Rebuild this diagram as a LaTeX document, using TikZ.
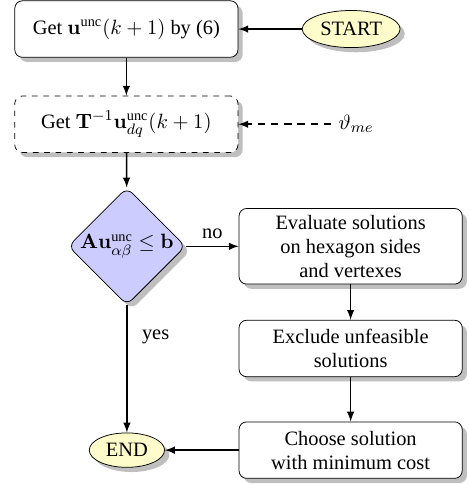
\documentclass[tikz,border=0pt]{standalone}
\usepackage{amsmath}
\usepackage[no-math]{fontspec}
\setmainfont{Liberation Serif}
\usetikzlibrary{shapes.geometric,shadows}

\tikzset{
	block/.style = {rectangle, draw, rounded corners=4pt, fill=white, drop shadow,
		align=center, minimum width=4.15cm, minimum height=1.05cm},
	term/.style = {ellipse, draw, fill=yellow!20, drop shadow, inner sep=1pt},
	test/.style = {diamond, draw, rounded corners=4pt, fill=blue!20, drop shadow,
		aspect=1, inner sep=0pt, minimum size=2.1cm},
	link/.style = {-latex, thick}
}

\begin{document}
\fontsize{10.8}{12.6}\selectfont
\begin{tikzpicture}
	\useasboundingbox (0,0) rectangle (8.72,-9.0);

	\node (a)[block] at(2.35,-0.54) {Get $\mathbf{u}^{\text{unc}}(k+1)$ by (6)};
	\node (s)[term, minimum width=1.82cm, minimum height=0.69cm] at(6.53,-0.54) {START};

	\node (b)[block, dashed] at(2.35,-2.31) {Get $\mathbf{T}^{-1}\mathbf{u}^{\text{unc}}_{dq}(k+1)$};
	\node (t) at(6.62,-2.31) {$\vartheta_{me}$};

	\node (c)[test] at(2.36,-4.58) {$\mathbf{A}\mathbf{u}^{\text{unc}}_{\alpha\beta}\leq\mathbf{b}$};

	\node (d)[block, minimum height=1.26cm] at(6.52,-4.58) {Evaluate solutions\\ on hexagon sides\\ and vertexes};
	\node (e)[block] at(6.52,-6.48) {Exclude unfeasible\\ solutions};
	\node (f)[block] at(6.52,-8.37) {Choose solution\\ with minimum cost};

	\node (g)[term, minimum width=1.4cm, minimum height=0.64cm] at(2.36,-8.37) {END};

	\draw [link](s)--(a);
	\draw [link](a)--(b);
	\draw [link, dash pattern=on 4pt off 3pt](t)--(b);
	\draw [link](b)--(c);
	\draw [link](c)-- node[above]{no} (d);
	\draw [link](d)--(e);
	\draw [link](e)--(f);
	\draw [link](f)--(g);
	\draw [link](c)-- node[pos=0.25, right=4pt]{yes} (g);
\end{tikzpicture}
\end{document}
